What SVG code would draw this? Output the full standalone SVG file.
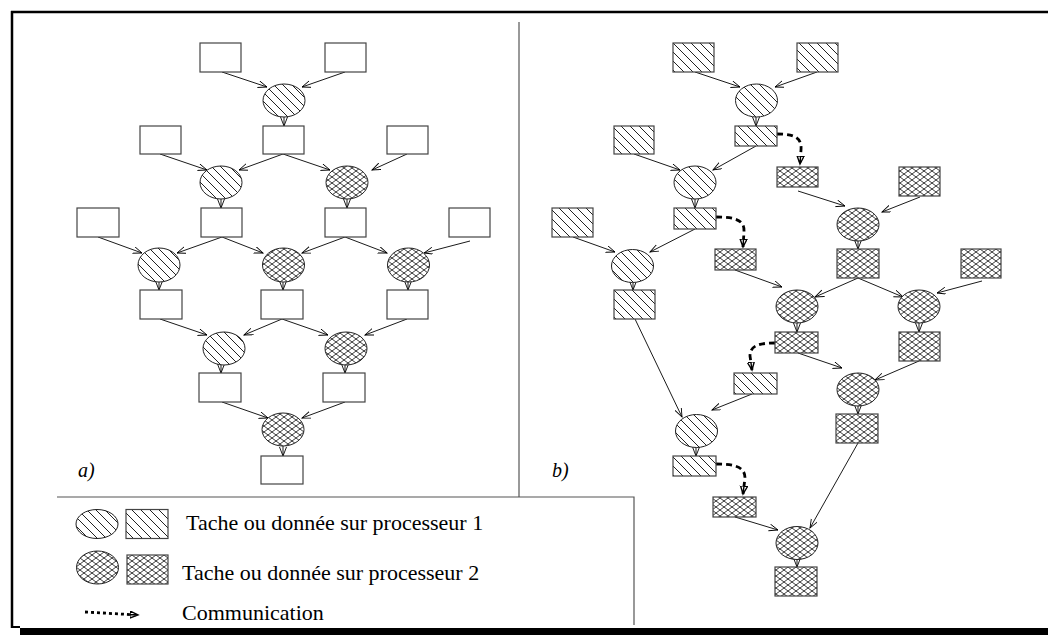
<svg xmlns="http://www.w3.org/2000/svg" width="1048" height="635" viewBox="0 0 1048 635">
<style>
.r{stroke:#444;stroke-width:1.2;fill:#fff}
.e{stroke:#222;stroke-width:1;fill:#fff}
.p1{fill:url(#h1)}
.p2{fill:url(#h2)}
.c{stroke:#000;stroke-width:0.9;fill:none;marker-end:url(#ar)}
.d{stroke:#000;stroke-width:2.8;fill:none;stroke-dasharray:6 4;marker-end:url(#ad)}
.fr{stroke:#555;stroke-width:1.2;fill:none}
.t{font-family:"Liberation Serif","Times New Roman",serif;font-size:22px;fill:#000}
.lb{font-family:"Liberation Serif","Times New Roman",serif;font-size:20px;font-style:italic;fill:#000}
</style>
<defs>
<pattern id="h1" patternUnits="userSpaceOnUse" width="9" height="9">
<rect width="9" height="9" fill="#fff"/>
<path d="M-1,-1 L10,10 M-1,8 L1,10 M8,-1 L10,1" stroke="#222" stroke-width="1"/>
</pattern>
<pattern id="h2" patternUnits="userSpaceOnUse" width="8" height="6">
<rect width="8" height="6" fill="#fff"/>
<path d="M0,0 L8,6 M0,6 L8,0" stroke="#222" stroke-width="0.9"/>
</pattern>
<marker id="ar" markerUnits="userSpaceOnUse" markerWidth="12" markerHeight="10" refX="9" refY="3.5" orient="auto">
<path d="M0,0 L9,3.5 L0,7" fill="none" stroke="#000" stroke-width="0.9"/>
</marker>
<marker id="ad" markerUnits="userSpaceOnUse" markerWidth="12" markerHeight="10" refX="8" refY="4" orient="auto">
<path d="M0,0.5 L8,4 L0,7.5 Z M0,4 L7,4" fill="#fff" stroke="#000" stroke-width="1.4"/>
</marker>
</defs>

<g id="frame">
<line x1="11" y1="12" x2="1048" y2="12" stroke="#000" stroke-width="2.5"/>
<line x1="12" y1="11" x2="12" y2="628" stroke="#000" stroke-width="2.5"/>
<line x1="11" y1="627" x2="20" y2="627" stroke="#000" stroke-width="2"/>
<rect x="20" y="628" width="1028" height="7" fill="#000"/>
<line class="fr" x1="519" y1="22" x2="519" y2="497"/>
<polyline class="fr" points="57,497 634,497 634,625"/>
</g>

<g id="connectors">
<!-- a) -->
<line class="c" x1="222" y1="72" x2="267" y2="87"/>
<line class="c" x1="345" y1="72" x2="302" y2="87"/>
<line class="c" x1="284" y1="117" x2="284" y2="126"/>
<line class="c" x1="160" y1="154" x2="207" y2="170"/>
<line class="c" x1="283" y1="154" x2="239" y2="170"/>
<line class="c" x1="283" y1="154" x2="330" y2="170"/>
<line class="c" x1="407" y1="154" x2="372" y2="170"/>
<line class="c" x1="221" y1="199" x2="221" y2="208"/>
<line class="c" x1="347" y1="199" x2="347" y2="208"/>
<line class="c" x1="98" y1="237" x2="142" y2="253"/>
<line class="c" x1="222" y1="237" x2="177" y2="253"/>
<line class="c" x1="222" y1="237" x2="263" y2="253"/>
<line class="c" x1="345" y1="237" x2="302" y2="253"/>
<line class="c" x1="345" y1="237" x2="387" y2="253"/>
<line class="c" x1="470" y1="241" x2="424" y2="253"/>
<line class="c" x1="159" y1="282" x2="159" y2="290"/>
<line class="c" x1="283" y1="282" x2="283" y2="290"/>
<line class="c" x1="408" y1="282" x2="408" y2="290"/>
<line class="c" x1="160" y1="319" x2="207" y2="335"/>
<line class="c" x1="282" y1="319" x2="244" y2="335"/>
<line class="c" x1="282" y1="319" x2="328" y2="335"/>
<line class="c" x1="407" y1="319" x2="365" y2="335"/>
<line class="c" x1="221" y1="365" x2="221" y2="373"/>
<line class="c" x1="345" y1="365" x2="345" y2="373"/>
<line class="c" x1="222" y1="402" x2="268" y2="418"/>
<line class="c" x1="345" y1="402" x2="302" y2="418"/>
<line class="c" x1="283" y1="446" x2="283" y2="456"/>
<!-- b) -->
<line class="c" x1="695" y1="72" x2="740" y2="87"/>
<line class="c" x1="817" y1="72" x2="775" y2="87"/>
<line class="c" x1="756" y1="117" x2="756" y2="126"/>
<line class="c" x1="634" y1="154" x2="680" y2="170"/>
<line class="c" x1="756" y1="146" x2="713" y2="170"/>
<line class="c" x1="695" y1="199" x2="695" y2="208"/>
<line class="c" x1="798" y1="191" x2="845" y2="206"/>
<line class="c" x1="920" y1="197" x2="882" y2="212"/>
<line class="c" x1="858" y1="241" x2="858" y2="249"/>
<line class="c" x1="573" y1="237" x2="615" y2="252"/>
<line class="c" x1="695" y1="229" x2="650" y2="252"/>
<line class="c" x1="633" y1="282" x2="633" y2="290"/>
<line class="c" x1="735" y1="270" x2="782" y2="287"/>
<line class="c" x1="858" y1="278" x2="815" y2="297"/>
<line class="c" x1="858" y1="278" x2="903" y2="297"/>
<line class="c" x1="982" y1="281" x2="937" y2="293"/>
<line class="c" x1="797" y1="323" x2="797" y2="332"/>
<line class="c" x1="919" y1="323" x2="919" y2="332"/>
<line class="c" x1="635" y1="319" x2="682" y2="417"/>
<line class="c" x1="798" y1="353" x2="842" y2="368"/>
<line class="c" x1="919" y1="361" x2="875" y2="380"/>
<line class="c" x1="752" y1="394" x2="712" y2="410"/>
<line class="c" x1="858" y1="406" x2="858" y2="414"/>
<line class="c" x1="696" y1="447" x2="696" y2="456"/>
<line class="c" x1="858" y1="443" x2="810" y2="528"/>
<line class="c" x1="735" y1="517" x2="778" y2="530"/>
<line class="c" x1="797" y1="559" x2="797" y2="567"/>
<!-- communications -->
<path class="d" d="M777,134 C795,134 802,138 801,150 L800,164"/>
<path class="d" d="M716,217 C735,217 745,220 744,232 L743,247"/>
<path class="d" d="M775,343 C758,343 750,346 750,356 L752,370"/>
<path class="d" d="M716,464 C735,464 745,467 745,478 L743,494"/>
</g>

<g id="a-nodes">
<g id="a-r0a"><rect class="r" x="200" y="43" width="41" height="29"/></g>
<g id="a-r0b"><rect class="r" x="325" y="43" width="41" height="29"/></g>
<g id="a-t0"><ellipse class="e p1" cx="284" cy="100.5" rx="21" ry="16.5"/></g>
<g id="a-r1a"><rect class="r" x="140" y="126" width="41" height="28"/></g>
<g id="a-r1b"><rect class="r" x="263" y="126" width="41" height="28"/></g>
<g id="a-r1c"><rect class="r" x="387" y="126" width="41" height="28"/></g>
<g id="a-t1a"><ellipse class="e p1" cx="221" cy="182.5" rx="21" ry="16.5"/></g>
<g id="a-t1b"><ellipse class="e p2" cx="347" cy="182.5" rx="21" ry="16.5"/></g>
<g id="a-r2a"><rect class="r" x="77" y="208" width="42" height="29"/></g>
<g id="a-r2b"><rect class="r" x="201" y="208" width="41" height="29"/></g>
<g id="a-r2c"><rect class="r" x="325" y="208" width="41" height="29"/></g>
<g id="a-r2d"><rect class="r" x="449" y="208" width="41" height="29"/></g>
<g id="a-t2a"><ellipse class="e p1" cx="159" cy="265" rx="21" ry="17"/></g>
<g id="a-t2b"><ellipse class="e p2" cx="283.5" cy="265" rx="21" ry="17"/></g>
<g id="a-t2c"><ellipse class="e p2" cx="408.5" cy="265" rx="21" ry="17"/></g>
<g id="a-r3a"><rect class="r" x="140" y="290" width="42" height="29"/></g>
<g id="a-r3b"><rect class="r" x="261" y="290" width="42" height="29"/></g>
<g id="a-r3c"><rect class="r" x="387" y="290" width="41" height="29"/></g>
<g id="a-t3a"><ellipse class="e p1" cx="224" cy="348.5" rx="21" ry="16.5"/></g>
<g id="a-t3b"><ellipse class="e p2" cx="346" cy="348.5" rx="21" ry="16.5"/></g>
<g id="a-r4a"><rect class="r" x="199" y="373" width="42" height="29"/></g>
<g id="a-r4b"><rect class="r" x="323" y="373" width="42" height="29"/></g>
<g id="a-t4"><ellipse class="e p2" cx="283" cy="429.5" rx="21" ry="16.5"/></g>
<g id="a-r5"><rect class="r" x="261" y="456" width="42" height="28"/></g>
<text class="lb" x="78" y="477">a)</text>
</g>

<g id="b-nodes">
<g id="b-r0a"><rect class="r p1" x="673" y="43" width="41" height="29"/></g>
<g id="b-r0b"><rect class="r p1" x="797" y="43" width="41" height="29"/></g>
<g id="b-t0"><ellipse class="e p1" cx="756.5" cy="100.5" rx="21" ry="16.5"/></g>
<g id="b-r1"><rect class="r p1" x="735" y="126" width="42" height="20"/></g>
<g id="b-r1l"><rect class="r p1" x="614" y="126" width="40" height="28"/></g>
<g id="b-c1"><rect class="r p2" x="777" y="167" width="41" height="20"/></g>
<g id="b-t1"><ellipse class="e p1" cx="695" cy="182.5" rx="21" ry="16.5"/></g>
<g id="b-c1r"><rect class="r p2" x="899" y="167" width="41" height="29"/></g>
<g id="b-t2"><ellipse class="e p2" cx="858" cy="224.5" rx="21" ry="16.5"/></g>
<g id="b-r2"><rect class="r p1" x="674" y="208" width="42" height="21"/></g>
<g id="b-r2l"><rect class="r p1" x="552" y="208" width="41" height="29"/></g>
<g id="b-c2"><rect class="r p2" x="715" y="249" width="41" height="21"/></g>
<g id="b-t3"><ellipse class="e p1" cx="632.5" cy="266" rx="21" ry="16.5"/></g>
<g id="b-c3"><rect class="r p2" x="837" y="249" width="42" height="29"/></g>
<g id="b-c3r"><rect class="r p2" x="961" y="249" width="40" height="29"/></g>
<g id="b-r3"><rect class="r p1" x="614" y="290" width="41" height="29"/></g>
<g id="b-t4"><ellipse class="e p2" cx="797" cy="306.5" rx="21" ry="16.5"/></g>
<g id="b-t5"><ellipse class="e p2" cx="919" cy="306.5" rx="21" ry="16.5"/></g>
<g id="b-c4"><rect class="r p2" x="775" y="332" width="43" height="21"/></g>
<g id="b-c5"><rect class="r p2" x="899" y="332" width="41" height="29"/></g>
<g id="b-r4"><rect class="r p1" x="734" y="373" width="43" height="21"/></g>
<g id="b-t6"><ellipse class="e p2" cx="858" cy="389.5" rx="21" ry="16.5"/></g>
<g id="b-c6"><rect class="r p2" x="836" y="414" width="42" height="29"/></g>
<g id="b-t7"><ellipse class="e p1" cx="696.5" cy="431" rx="21" ry="16.5"/></g>
<g id="b-r5"><rect class="r p1" x="673" y="456" width="43" height="20"/></g>
<g id="b-c7"><rect class="r p2" x="713" y="497" width="43" height="20"/></g>
<g id="b-t8"><ellipse class="e p2" cx="797" cy="543" rx="21" ry="16.5"/></g>
<g id="b-c8"><rect class="r p2" x="775" y="567" width="42" height="29"/></g>
<text class="lb" x="552" y="477">b)</text>
</g>

<g id="legend">
<g id="leg-p1">
<ellipse class="e p1" cx="97" cy="524" rx="21" ry="14.5"/>
<rect class="r p1" x="126" y="509.5" width="42" height="29"/>
<text class="t" x="186" y="530">Tache ou donnée sur processeur 1</text>
</g>
<g id="leg-p2">
<ellipse class="e p2" cx="97.5" cy="567.5" rx="21" ry="16.5"/>
<rect class="r p2" x="127" y="555" width="41" height="29"/>
<text class="t" x="182" y="580">Tache ou donnée sur processeur 2</text>
</g>
<g id="leg-comm">
<path d="M85,612 L138,615" stroke="#000" stroke-width="2.8" fill="none" stroke-dasharray="3 3" marker-end="url(#ad)"/>
<text class="t" x="182" y="620">Communication</text>
</g>
</g>
</svg>
